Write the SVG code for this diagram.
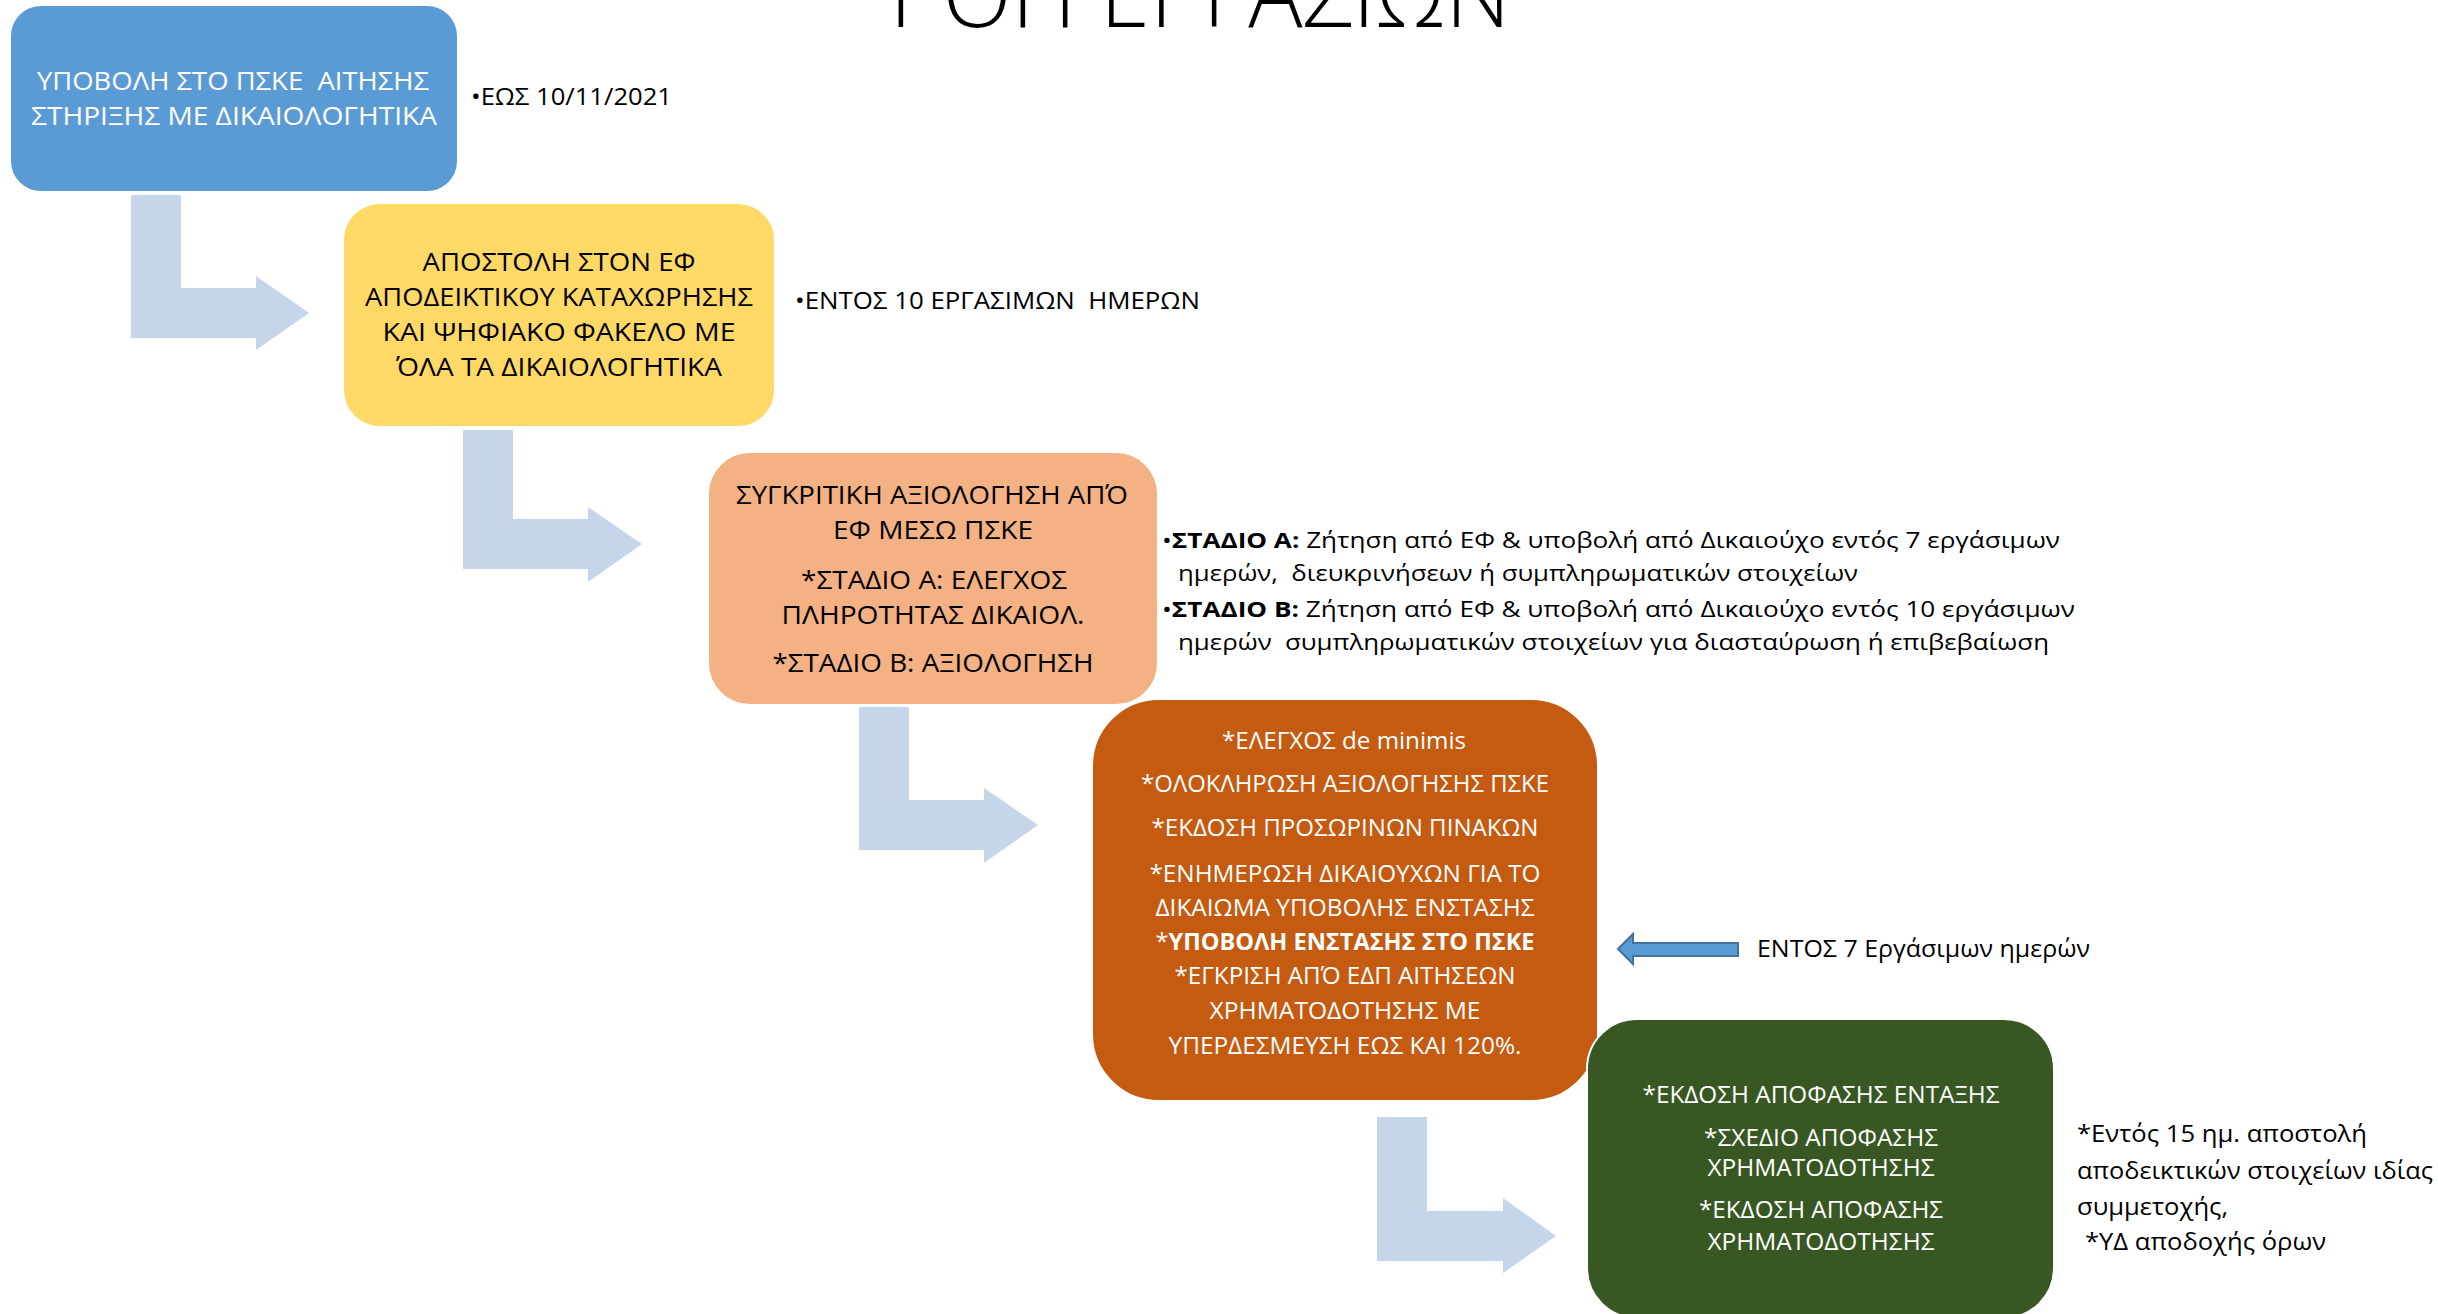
<svg xmlns="http://www.w3.org/2000/svg" width="2438" height="1314" viewBox="0 0 2438 1314">
<defs>
<style>
text{font-family:'Open Sans','Noto Sans','DejaVu Sans',sans-serif;white-space:pre;}
.box{stroke:#ffffff;stroke-width:2;}
.c{text-anchor:middle;}
.w{fill:#ffffff;}
.k{fill:#000000;}
.s25{font-size:25px;}
.s24{font-size:24px;}
.s23{font-size:23px;}
.s21{font-size:21px;}
.b{font-weight:bold;}
.conn{fill:#C5D5EA;}
</style>
</defs>
<rect width="2438" height="1314" fill="#ffffff"/>
<text id="title" x="1200" y="27" class="c k" font-size="92" font-weight="300" textLength="621" lengthAdjust="spacingAndGlyphs">ΡΟΗ ΕΡΓΑΣΙΩΝ</text>

<g id="connectors">
<polygon class="conn" points="131,195 181,195 181,288 256,288 256,276 309,313 256,350 256,338 131,338"/>
<polygon class="conn" points="463,430 513,430 513,519 588,519 588,507 642,544 588,582 588,569 463,569"/>
<polygon class="conn" points="859,707 909,707 909,800 984,800 984,788 1038,825 984,863 984,850 859,850"/>
<polygon class="conn" points="1377,1117 1427,1117 1427,1211 1503,1211 1503,1198 1556,1236 1503,1273 1503,1261 1377,1261"/>
<polygon points="1618,949 1633,934 1633,943 1738,943 1738,956 1633,956 1633,964" fill="#5B9BD5" stroke="#41719C" stroke-width="2" stroke-linejoin="miter"/>
</g>

<g id="node1">
<rect class="box" x="10" y="5" width="448" height="187" rx="31" fill="#5B9BD5"/>
<text class="c w s25" x="233" y="90" textLength="392" lengthAdjust="spacingAndGlyphs" xml:space="preserve">ΥΠΟΒΟΛΗ ΣΤΟ ΠΣΚΕ  ΑΙΤΗΣΗΣ</text>
<text class="c w s25" x="234" y="125" textLength="406" lengthAdjust="spacingAndGlyphs">ΣΤΗΡΙΞΗΣ ΜΕ ΔΙΚΑΙΟΛΟΓΗΤΙΚΑ</text>
</g>
<g id="note1">
<text class="k s23" x="471" y="105" textLength="201" lengthAdjust="spacingAndGlyphs">•ΕΩΣ 10/11/2021</text>
</g>

<g id="node2">
<rect class="box" x="343" y="203" width="432" height="224" rx="37" fill="#FFD966"/>
<text class="c k s25" x="559" y="271" textLength="273" lengthAdjust="spacingAndGlyphs">ΑΠΟΣΤΟΛΗ ΣΤΟΝ ΕΦ</text>
<text class="c k s25" x="559" y="306" textLength="388" lengthAdjust="spacingAndGlyphs">ΑΠΟΔΕΙΚΤΙΚΟΥ ΚΑΤΑΧΩΡΗΣΗΣ</text>
<text class="c k s25" x="559" y="341" textLength="353" lengthAdjust="spacingAndGlyphs">ΚΑΙ ΨΗΦΙΑΚΟ ΦΑΚΕΛΟ ΜΕ</text>
<text class="c k s25" x="559" y="376" textLength="326" lengthAdjust="spacingAndGlyphs">ΌΛΑ ΤΑ ΔΙΚΑΙΟΛΟΓΗΤΙΚΑ</text>
</g>
<g id="note2">
<text class="k s23" x="795" y="309" textLength="405" lengthAdjust="spacingAndGlyphs" xml:space="preserve">•ΕΝΤΟΣ 10 ΕΡΓΑΣΙΜΩΝ  ΗΜΕΡΩΝ</text>
</g>

<g id="node3">
<rect class="box" x="708" y="452" width="450" height="253" rx="42" fill="#F4B183"/>
<text class="c k s25" x="932" y="504" textLength="392" lengthAdjust="spacingAndGlyphs">ΣΥΓΚΡΙΤΙΚΗ ΑΞΙΟΛΟΓΗΣΗ ΑΠΌ</text>
<text class="c k s25" x="933" y="539" textLength="200" lengthAdjust="spacingAndGlyphs">ΕΦ ΜΕΣΩ ΠΣΚΕ</text>
<text class="c k s25" x="934" y="589" textLength="266" lengthAdjust="spacingAndGlyphs">*ΣΤΑΔΙΟ Α: ΕΛΕΓΧΟΣ</text>
<text class="c k s25" x="933" y="624" textLength="303" lengthAdjust="spacingAndGlyphs">ΠΛΗΡΟΤΗΤΑΣ ΔΙΚΑΙΟΛ.</text>
<text class="c k s25" x="933" y="672" textLength="321" lengthAdjust="spacingAndGlyphs">*ΣΤΑΔΙΟ Β: ΑΞΙΟΛΟΓΗΣΗ</text>
</g>
<g id="note3">
<text class="k s21" x="1162" y="548" textLength="898" lengthAdjust="spacingAndGlyphs">•<tspan class="b">ΣΤΑΔΙΟ Α:</tspan> Ζήτηση από ΕΦ &amp; υποβολή από Δικαιούχο εντός 7 εργάσιμων</text>
<text class="k s21" x="1178" y="581" textLength="680" lengthAdjust="spacingAndGlyphs" xml:space="preserve">ημερών,  διευκρινήσεων ή συμπληρωματικών στοιχείων</text>
<text class="k s21" x="1162" y="617" textLength="913" lengthAdjust="spacingAndGlyphs">•<tspan class="b">ΣΤΑΔΙΟ Β:</tspan> Ζήτηση από ΕΦ &amp; υποβολή από Δικαιούχο εντός 10 εργάσιμων</text>
<text class="k s21" x="1178" y="650" textLength="871" lengthAdjust="spacingAndGlyphs" xml:space="preserve">ημερών  συμπληρωματικών στοιχείων για διασταύρωση ή επιβεβαίωση</text>
</g>

<g id="node4">
<rect class="box" x="1092" y="699" width="506" height="402" rx="67" fill="#C55A11"/>
<text class="c w s24" x="1344" y="749" textLength="244" lengthAdjust="spacingAndGlyphs">*ΕΛΕΓΧΟΣ de minimis</text>
<text class="c w s24" x="1345" y="792" textLength="408" lengthAdjust="spacingAndGlyphs">*ΟΛΟΚΛΗΡΩΣΗ ΑΞΙΟΛΟΓΗΣΗΣ ΠΣΚΕ</text>
<text class="c w s24" x="1345" y="836" textLength="387" lengthAdjust="spacingAndGlyphs">*ΕΚΔΟΣΗ ΠΡΟΣΩΡΙΝΩΝ ΠΙΝΑΚΩΝ</text>
<text class="c w s24" x="1345" y="882" textLength="391" lengthAdjust="spacingAndGlyphs">*ΕΝΗΜΕΡΩΣΗ ΔΙΚΑΙΟΥΧΩΝ ΓΙΑ ΤΟ</text>
<text class="c w s24" x="1345" y="916" textLength="379" lengthAdjust="spacingAndGlyphs">ΔΙΚΑΙΩΜΑ ΥΠΟΒΟΛΗΣ ΕΝΣΤΑΣΗΣ</text>
<text class="c w s24" x="1345" y="950" textLength="379" lengthAdjust="spacingAndGlyphs">*<tspan class="b">ΥΠΟΒΟΛΗ ΕΝΣΤΑΣΗΣ ΣΤΟ ΠΣΚΕ</tspan></text>
<text class="c w s24" x="1345" y="984" textLength="341" lengthAdjust="spacingAndGlyphs">*ΕΓΚΡΙΣΗ ΑΠΌ ΕΔΠ ΑΙΤΗΣΕΩΝ</text>
<text class="c w s24" x="1345" y="1019" textLength="271" lengthAdjust="spacingAndGlyphs">ΧΡΗΜΑΤΟΔΟΤΗΣΗΣ ΜΕ</text>
<text class="c w s24" x="1345" y="1054" textLength="353" lengthAdjust="spacingAndGlyphs">ΥΠΕΡΔΕΣΜΕΥΣΗ ΕΩΣ ΚΑΙ 120%.</text>
</g>
<g id="note4">
<text class="k s23" x="1757" y="957" textLength="333" lengthAdjust="spacingAndGlyphs">ΕΝΤΟΣ 7 Εργάσιμων ημερών</text>
</g>

<g id="node5">
<rect class="box" x="1587" y="1019" width="467" height="299" rx="50" fill="#385723"/>
<text class="c w s24" x="1821" y="1103" textLength="357" lengthAdjust="spacingAndGlyphs">*ΕΚΔΟΣΗ ΑΠΟΦΑΣΗΣ ΕΝΤΑΞΗΣ</text>
<text class="c w s24" x="1821" y="1146" textLength="234" lengthAdjust="spacingAndGlyphs">*ΣΧΕΔΙΟ ΑΠΟΦΑΣΗΣ</text>
<text class="c w s24" x="1821" y="1176" textLength="227" lengthAdjust="spacingAndGlyphs">ΧΡΗΜΑΤΟΔΟΤΗΣΗΣ</text>
<text class="c w s24" x="1821" y="1218" textLength="244" lengthAdjust="spacingAndGlyphs">*ΕΚΔΟΣΗ ΑΠΟΦΑΣΗΣ</text>
<text class="c w s24" x="1821" y="1250" textLength="227" lengthAdjust="spacingAndGlyphs">ΧΡΗΜΑΤΟΔΟΤΗΣΗΣ</text>
</g>
<g id="note5">
<text class="k s23" x="2077" y="1142" textLength="290" lengthAdjust="spacingAndGlyphs">*Εντός 15 ημ. αποστολή</text>
<text class="k s23" x="2077" y="1179" textLength="356" lengthAdjust="spacingAndGlyphs">αποδεικτικών στοιχείων ιδίας</text>
<text class="k s23" x="2077" y="1215" textLength="151" lengthAdjust="spacingAndGlyphs">συμμετοχής,</text>
<text class="k s23" x="2085" y="1250" textLength="241" lengthAdjust="spacingAndGlyphs">*ΥΔ αποδοχής όρων</text>
</g>
</svg>
